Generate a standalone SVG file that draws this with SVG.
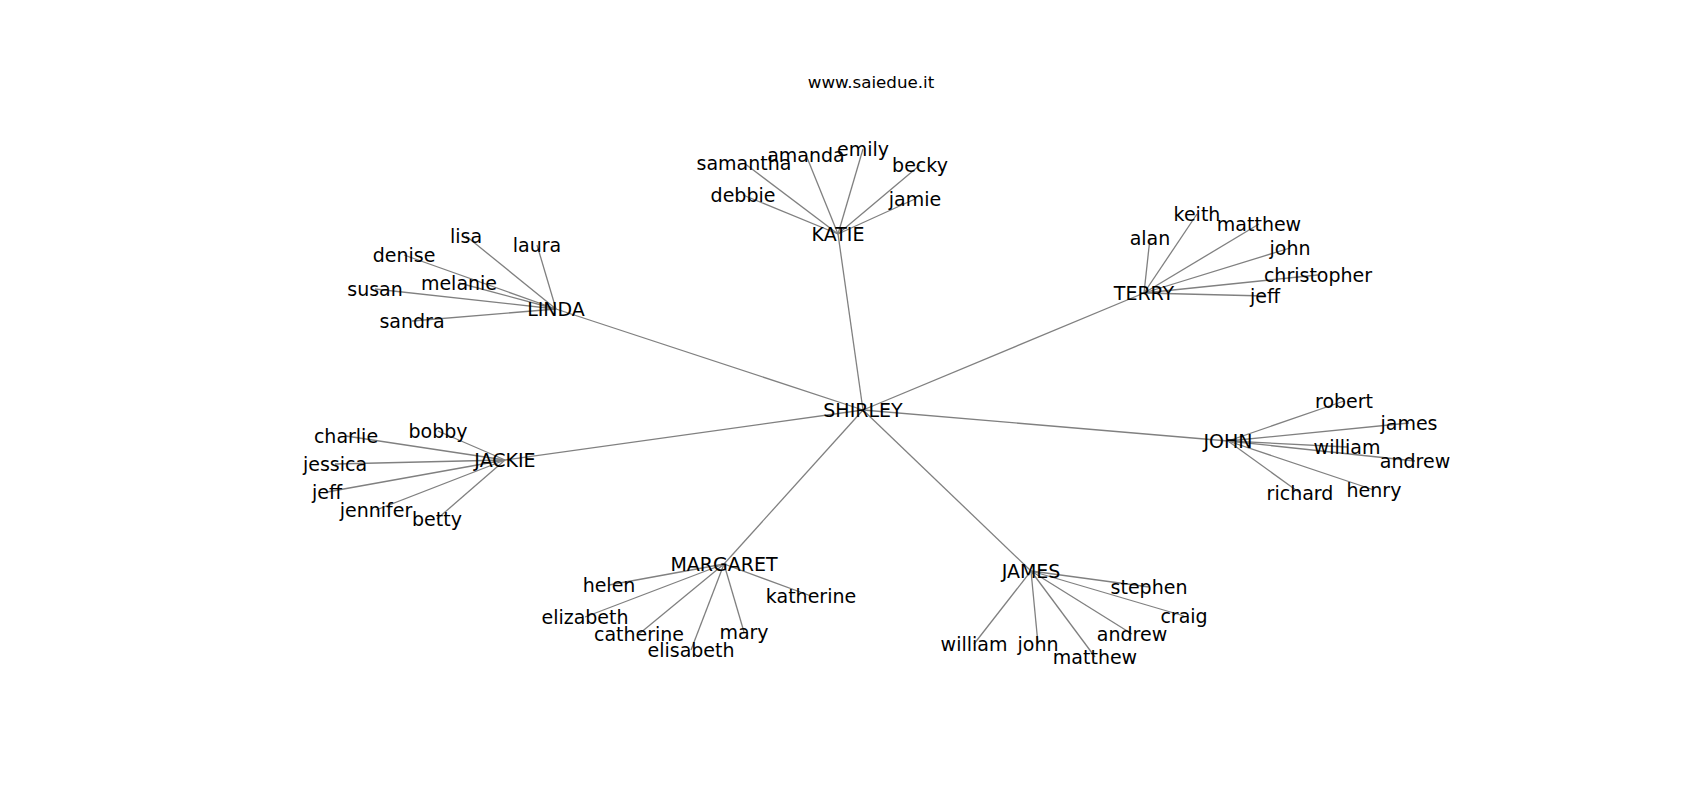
<svg xmlns="http://www.w3.org/2000/svg" width="1700" height="800" viewBox="0 0 1700 800">
<style>
.e{stroke:#808080;stroke-width:1.3;fill:none}
text{font-family:"DejaVu Sans","Liberation Sans",sans-serif;font-size:19px;fill:#000;text-anchor:middle}
.title{font-size:16.7px}
</style>
<rect width="1700" height="800" fill="#fff"/>
<text class="title" x="871" y="88">www.saiedue.it</text>
<g id="edges">
<line class="e" x1="863" y1="410" x2="838" y2="234"/>
<line class="e" x1="863" y1="410" x2="556" y2="309"/>
<line class="e" x1="863" y1="410" x2="1144" y2="293"/>
<line class="e" x1="863" y1="410" x2="1228" y2="441"/>
<line class="e" x1="863" y1="410" x2="505" y2="460"/>
<line class="e" x1="863" y1="410" x2="724" y2="564"/>
<line class="e" x1="863" y1="410" x2="1031" y2="571"/>
<line class="e" x1="838" y1="234" x2="744" y2="163"/>
<line class="e" x1="838" y1="234" x2="806" y2="155"/>
<line class="e" x1="838" y1="234" x2="863" y2="149"/>
<line class="e" x1="838" y1="234" x2="920" y2="165"/>
<line class="e" x1="838" y1="234" x2="743" y2="195"/>
<line class="e" x1="838" y1="234" x2="915" y2="199"/>
<line class="e" x1="556" y1="309" x2="466" y2="236"/>
<line class="e" x1="556" y1="309" x2="537" y2="245"/>
<line class="e" x1="556" y1="309" x2="404" y2="255"/>
<line class="e" x1="556" y1="309" x2="459" y2="283"/>
<line class="e" x1="556" y1="309" x2="375" y2="289"/>
<line class="e" x1="556" y1="309" x2="412" y2="321"/>
<line class="e" x1="1144" y1="293" x2="1150" y2="238"/>
<line class="e" x1="1144" y1="293" x2="1197" y2="214"/>
<line class="e" x1="1144" y1="293" x2="1259" y2="224"/>
<line class="e" x1="1144" y1="293" x2="1290" y2="248"/>
<line class="e" x1="1144" y1="293" x2="1318" y2="275"/>
<line class="e" x1="1144" y1="293" x2="1265" y2="296"/>
<line class="e" x1="1228" y1="441" x2="1344" y2="401"/>
<line class="e" x1="1228" y1="441" x2="1409" y2="423"/>
<line class="e" x1="1228" y1="441" x2="1347" y2="447"/>
<line class="e" x1="1228" y1="441" x2="1415" y2="461"/>
<line class="e" x1="1228" y1="441" x2="1374" y2="490"/>
<line class="e" x1="1228" y1="441" x2="1300" y2="493"/>
<line class="e" x1="505" y1="460" x2="438" y2="431"/>
<line class="e" x1="505" y1="460" x2="346" y2="436"/>
<line class="e" x1="505" y1="460" x2="335" y2="464"/>
<line class="e" x1="505" y1="460" x2="327" y2="492"/>
<line class="e" x1="505" y1="460" x2="376" y2="510"/>
<line class="e" x1="505" y1="460" x2="437" y2="519"/>
<line class="e" x1="724" y1="564" x2="609" y2="585"/>
<line class="e" x1="724" y1="564" x2="585" y2="617"/>
<line class="e" x1="724" y1="564" x2="639" y2="634"/>
<line class="e" x1="724" y1="564" x2="691" y2="650"/>
<line class="e" x1="724" y1="564" x2="744" y2="632"/>
<line class="e" x1="724" y1="564" x2="811" y2="596"/>
<line class="e" x1="1031" y1="571" x2="1149" y2="587"/>
<line class="e" x1="1031" y1="571" x2="1184" y2="616"/>
<line class="e" x1="1031" y1="571" x2="1132" y2="634"/>
<line class="e" x1="1031" y1="571" x2="1095" y2="657"/>
<line class="e" x1="1031" y1="571" x2="1038" y2="644"/>
<line class="e" x1="1031" y1="571" x2="974" y2="644"/>
</g>
<g id="n-shirley"><text x="863" y="417">SHIRLEY</text></g>
<g id="n-katie"><text x="838" y="241">KATIE</text></g>
<g id="n-katie-samantha"><text x="744" y="170">samantha</text></g>
<g id="n-katie-amanda"><text x="806" y="162">amanda</text></g>
<g id="n-katie-emily"><text x="863" y="156">emily</text></g>
<g id="n-katie-becky"><text x="920" y="172">becky</text></g>
<g id="n-katie-debbie"><text x="743" y="202">debbie</text></g>
<g id="n-katie-jamie"><text x="915" y="206">jamie</text></g>
<g id="n-linda"><text x="556" y="316">LINDA</text></g>
<g id="n-linda-lisa"><text x="466" y="243">lisa</text></g>
<g id="n-linda-laura"><text x="537" y="252">laura</text></g>
<g id="n-linda-denise"><text x="404" y="262">denise</text></g>
<g id="n-linda-melanie"><text x="459" y="290">melanie</text></g>
<g id="n-linda-susan"><text x="375" y="296">susan</text></g>
<g id="n-linda-sandra"><text x="412" y="328">sandra</text></g>
<g id="n-terry"><text x="1144" y="300">TERRY</text></g>
<g id="n-terry-alan"><text x="1150" y="245">alan</text></g>
<g id="n-terry-keith"><text x="1197" y="221">keith</text></g>
<g id="n-terry-matthew"><text x="1259" y="231">matthew</text></g>
<g id="n-terry-john"><text x="1290" y="255">john</text></g>
<g id="n-terry-christopher"><text x="1318" y="282">christopher</text></g>
<g id="n-terry-jeff"><text x="1265" y="303">jeff</text></g>
<g id="n-john"><text x="1228" y="448">JOHN</text></g>
<g id="n-john-robert"><text x="1344" y="408">robert</text></g>
<g id="n-john-james"><text x="1409" y="430">james</text></g>
<g id="n-john-william"><text x="1347" y="454">william</text></g>
<g id="n-john-andrew"><text x="1415" y="468">andrew</text></g>
<g id="n-john-henry"><text x="1374" y="497">henry</text></g>
<g id="n-john-richard"><text x="1300" y="500">richard</text></g>
<g id="n-jackie"><text x="505" y="467">JACKIE</text></g>
<g id="n-jackie-bobby"><text x="438" y="438">bobby</text></g>
<g id="n-jackie-charlie"><text x="346" y="443">charlie</text></g>
<g id="n-jackie-jessica"><text x="335" y="471">jessica</text></g>
<g id="n-jackie-jeff"><text x="327" y="499">jeff</text></g>
<g id="n-jackie-jennifer"><text x="376" y="517">jennifer</text></g>
<g id="n-jackie-betty"><text x="437" y="526">betty</text></g>
<g id="n-margaret"><text x="724" y="571">MARGARET</text></g>
<g id="n-margaret-helen"><text x="609" y="592">helen</text></g>
<g id="n-margaret-elizabeth"><text x="585" y="624">elizabeth</text></g>
<g id="n-margaret-catherine"><text x="639" y="641">catherine</text></g>
<g id="n-margaret-elisabeth"><text x="691" y="657">elisabeth</text></g>
<g id="n-margaret-mary"><text x="744" y="639">mary</text></g>
<g id="n-margaret-katherine"><text x="811" y="603">katherine</text></g>
<g id="n-james"><text x="1031" y="578">JAMES</text></g>
<g id="n-james-stephen"><text x="1149" y="594">stephen</text></g>
<g id="n-james-craig"><text x="1184" y="623">craig</text></g>
<g id="n-james-andrew"><text x="1132" y="641">andrew</text></g>
<g id="n-james-matthew"><text x="1095" y="664">matthew</text></g>
<g id="n-james-john"><text x="1038" y="651">john</text></g>
<g id="n-james-william"><text x="974" y="651">william</text></g>
</svg>
